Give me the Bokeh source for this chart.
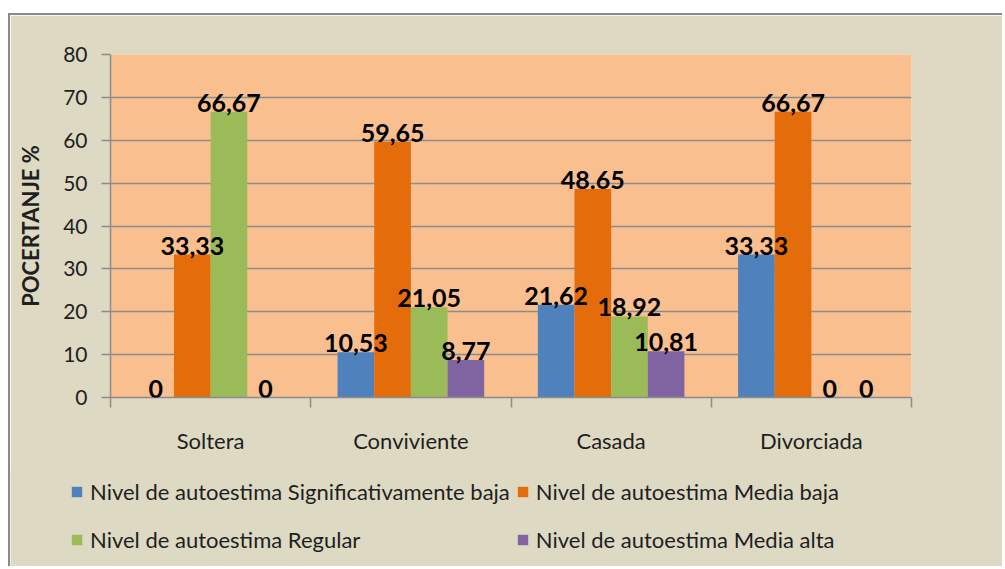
from bokeh.plotting import figure
from bokeh.models import Range1d, FixedTicker, ColumnDataSource, LabelSet, Legend, LegendItem
from bokeh.transform import dodge
from bokeh.core.properties import value
from bokeh.embed import file_html
from bokeh.resources import INLINE

# ---- data ----
categories = ["Soltera", "Conviviente", "Casada", "Divorciada"]
series_names = [
    "Nivel de autoestima Significativamente baja",
    "Nivel de autoestima Media baja",
    "Nivel de autoestima Regular",
    "Nivel de autoestima Media alta",
]
sig_baja = [0, 10.53, 21.62, 33.33]
media_baja = [33.33, 59.65, 48.65, 66.67]
regular = [66.67, 21.05, 18.92, 0]
media_alta = [0, 8.77, 10.81, 0]
sig_baja_labels = ["0", "10,53", "21,62", "33,33"]
media_baja_labels = ["33,33", "59,65", "48.65", "66,67"]
regular_labels = ["66,67", "21,05", "18,92", "0"]
media_alta_labels = ["0", "8,77", "10,81", "0"]
y_ticks = [0, 10, 20, 30, 40, 50, 60, 70, 80]
y_title = "POCERTANJE %"

colors = ["#4f81bd", "#e46c0a", "#9bbb59", "#8064a2"]
FONT = "Lato"
TXT = "#1f1f1f"
GRID = "#8c8c8c"
BG = "#ddd9c3"
EDGE = "2px solid #8a8a8a"

xc = [i + 0.5 for i in range(len(categories))]
src = ColumnDataSource(dict(
    x=xc,
    s0=sig_baja, s1=media_baja, s2=regular, s3=media_alta,
    l0=sig_baja_labels, l1=media_baja_labels, l2=regular_labels, l3=media_alta_labels,
))

W = 994
H1 = 460
H2 = 96

p = figure(width=W, height=H1, x_range=Range1d(0, len(categories)), y_range=Range1d(0, 80),
           output_backend="svg", toolbar_location=None,
           min_border_left=100, min_border_right=93, min_border_top=39, min_border_bottom=78)
p.styles = {"margin-left": "8px", "margin-top": "13px", "border-top": EDGE, "border-left": EDGE}
p.background_fill_color = "#f9bf8f"
p.border_fill_color = BG
p.outline_line_color = None

p.xgrid.visible = False
p.ygrid.grid_line_color = GRID
p.ygrid.grid_line_width = 1.5

# y axis
p.yaxis.ticker = FixedTicker(ticks=y_ticks)
p.yaxis.axis_label = y_title
p.yaxis.axis_label_text_font = FONT
p.yaxis.axis_label_text_font_style = "bold"
p.yaxis.axis_label_text_font_size = "22px"
p.yaxis.axis_label_text_color = TXT
p.yaxis.axis_label_standoff = 16
p.yaxis.major_label_text_font = FONT
p.yaxis.major_label_text_font_size = "21px"
p.yaxis.major_label_text_color = TXT
p.yaxis.major_label_standoff = 14
p.yaxis.axis_line_color = GRID
p.yaxis.axis_line_width = 1.5
p.yaxis.major_tick_line_color = GRID
p.yaxis.major_tick_line_width = 1.5
p.yaxis.major_tick_out = 9
p.yaxis.major_tick_in = 0
p.yaxis.minor_tick_line_color = None

# x axis
p.xaxis.ticker = FixedTicker(ticks=xc, minor_ticks=list(range(len(categories) + 1)))
p.xaxis.major_label_overrides = {x: c for x, c in zip(xc, categories)}
p.xaxis.major_label_text_font = FONT
p.xaxis.major_label_text_font_size = "22px"
p.xaxis.major_label_text_color = TXT
p.xaxis.major_label_standoff = 19
p.xaxis.major_tick_line_color = None
p.xaxis.major_tick_out = 0
p.xaxis.major_tick_in = 0
p.xaxis.minor_tick_line_color = GRID
p.xaxis.minor_tick_line_width = 1.5
p.xaxis.minor_tick_out = 10
p.xaxis.minor_tick_in = 0
p.xaxis.axis_line_color = GRID
p.xaxis.axis_line_width = 1.5

w = 0.183
offsets = [-1.5 * w, -0.5 * w, 0.5 * w, 1.5 * w]
for j in range(4):
    p.vbar(x=dodge("x", offsets[j], range=p.x_range), top="s%d" % j, width=w, source=src,
           fill_color=colors[j], line_color=None)

for j in range(4):
    ls = LabelSet(x=dodge("x", offsets[j], range=p.x_range), y="s%d" % j, text="l%d" % j, source=src,
                  text_align="center", text_baseline="middle", y_offset=9,
                  text_font=value(FONT), text_font_style="bold", text_font_size="25px",
                  text_color="#000000")
    p.add_layout(ls)

# ---- legend strip (second figure, same background) ----
q = figure(width=W, height=H2, x_range=Range1d(0, 1), y_range=Range1d(0, 1),
           output_backend="svg", toolbar_location=None,
           x_axis_location=None, y_axis_location=None,
           min_border_left=0, min_border_right=0, min_border_top=0, min_border_bottom=0)
q.styles = {"margin-left": "8px", "margin-top": "-3px", "border-left": EDGE}
q.background_fill_color = BG
q.border_fill_color = BG
q.outline_line_color = None
q.xgrid.visible = False
q.ygrid.visible = False

items = []
for j in range(4):
    r = q.vbar(x=dodge("x", offsets[j], range=p.x_range), top="s%d" % j, width=w, source=src,
               fill_color=colors[j], line_color=None, visible=False)
    items.append(LegendItem(label=series_names[j], renderers=[r]))

legend = Legend(items=items, location=(60, 6), ncols=2, orientation="horizontal")
legend.background_fill_alpha = 0
legend.border_line_color = None
legend.padding = 0
legend.margin = 0
legend.glyph_width = 13
legend.glyph_height = 13
legend.label_standoff = 7
legend.spacing = 6
legend.label_height = 42
legend.label_text_font = FONT
legend.label_text_font_size = "22px"
legend.label_text_color = TXT
q.add_layout(legend)

open("out.html", "w").write(file_html([p, q], INLINE))
